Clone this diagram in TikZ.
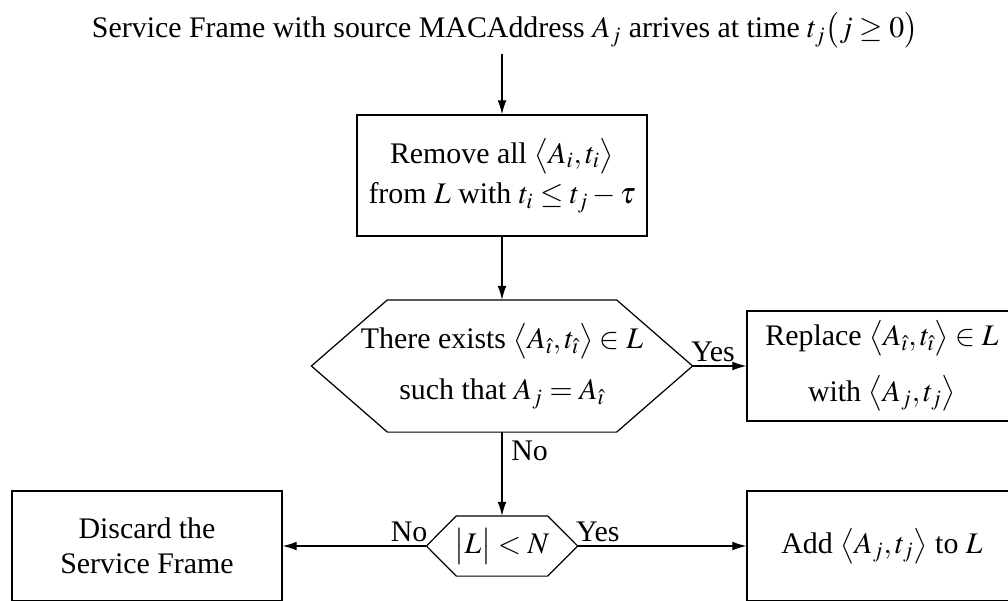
\documentclass[tikz,border=0pt]{standalone}
\usepackage{mathptmx}
\usepackage[no-math]{fontspec}
\setmainfont{Liberation Serif}
\usetikzlibrary{arrows.meta}
\def\hexframe(#1:#2){\draw (#1.west) -- ([xshift=#2]#1.north west) -- ([xshift=-#2]#1.north east) -- (#1.east) -- ([xshift=-#2]#1.south east) -- ([xshift=#2]#1.south west) -- cycle;}

\begin{document}
\begin{tikzpicture}[
	font=\fontsize{17}{20}\selectfont,
	line width=0.7pt,
	box/.style={draw, minimum width=5.4cm, minimum height=2.2cm, align=center, inner sep=0pt},
	hexa/.style={align=center, inner sep=0pt},
	flow/.style={-{Latex[length=8pt,width=5pt]}},
	tag/.style={inner sep=2pt}
	]
			%%%%% START %%%%%
			
			\useasboundingbox (0, 0) rectangle (20.16, 12);
			\clip (0, 0) rectangle (20.16, 12);
			
			\node[anchor=base, inner sep=3pt] (frame) at (10.1, 11.24) {Service Frame with source MACAddress $A_j$ arrives at time $t_j\bigl(j\geq 0\bigr)$};
			
			\node[box, minimum width=5.8cm, minimum height=2.42cm] (remove) at (10.04, 8.49) {Remove all $\bigl\langle A_i,t_i\bigr\rangle$\\[3pt] from $L$ with $t_i\leq t_j-\tau$};
			
			\node[hexa, minimum width=7.6cm, minimum height=2.62cm] (exists) at (10.04, 4.68) {There exists $\bigl\langle A_{\hat\imath},t_{\hat\imath}\bigr\rangle\in L$\\[9pt] such that $A_j=A_{\hat\imath}$};
			\hexframe(exists:1.52cm)
			\node[box] (replace) at (17.64, 4.68) {Replace $\bigl\langle A_{\hat\imath},t_{\hat\imath}\bigr\rangle\in L$\\[10pt] with $\bigl\langle A_j,t_j\bigr\rangle$};
			
			\node[hexa, minimum width=3cm, minimum height=1.18cm] (size) at (10.04, 1.08) {$\bigl|L\bigr|<N$};
			\hexframe(size:0.6cm)
			\node[box] (discard) at (2.94, 1.08) {Discard the\\ Service Frame};
			\node[box] (add) at (17.64, 1.08) {Add $\bigl\langle A_j,t_j\bigr\rangle$ to $L$};
			
			\draw[flow] (frame.south -| remove.north) -- (remove.north);
			\draw[flow] (remove.south) -- (exists.north);
			\draw[flow] (exists.east) -- node[tag, above, pos=0.38] {Yes} (replace.west);
			\draw[flow] (exists.south) -- node[tag, right, pos=0.22, xshift=3pt] {No} (size.north);
			\draw[flow] (size.west) -- node[tag, above, pos=0.12] {No} (discard.east);
			\draw[flow] (size.east) -- node[tag, above, pos=0.12] {Yes} (add.west);
			
			%%%%% END %%%%%
\end{tikzpicture}
\end{document}
